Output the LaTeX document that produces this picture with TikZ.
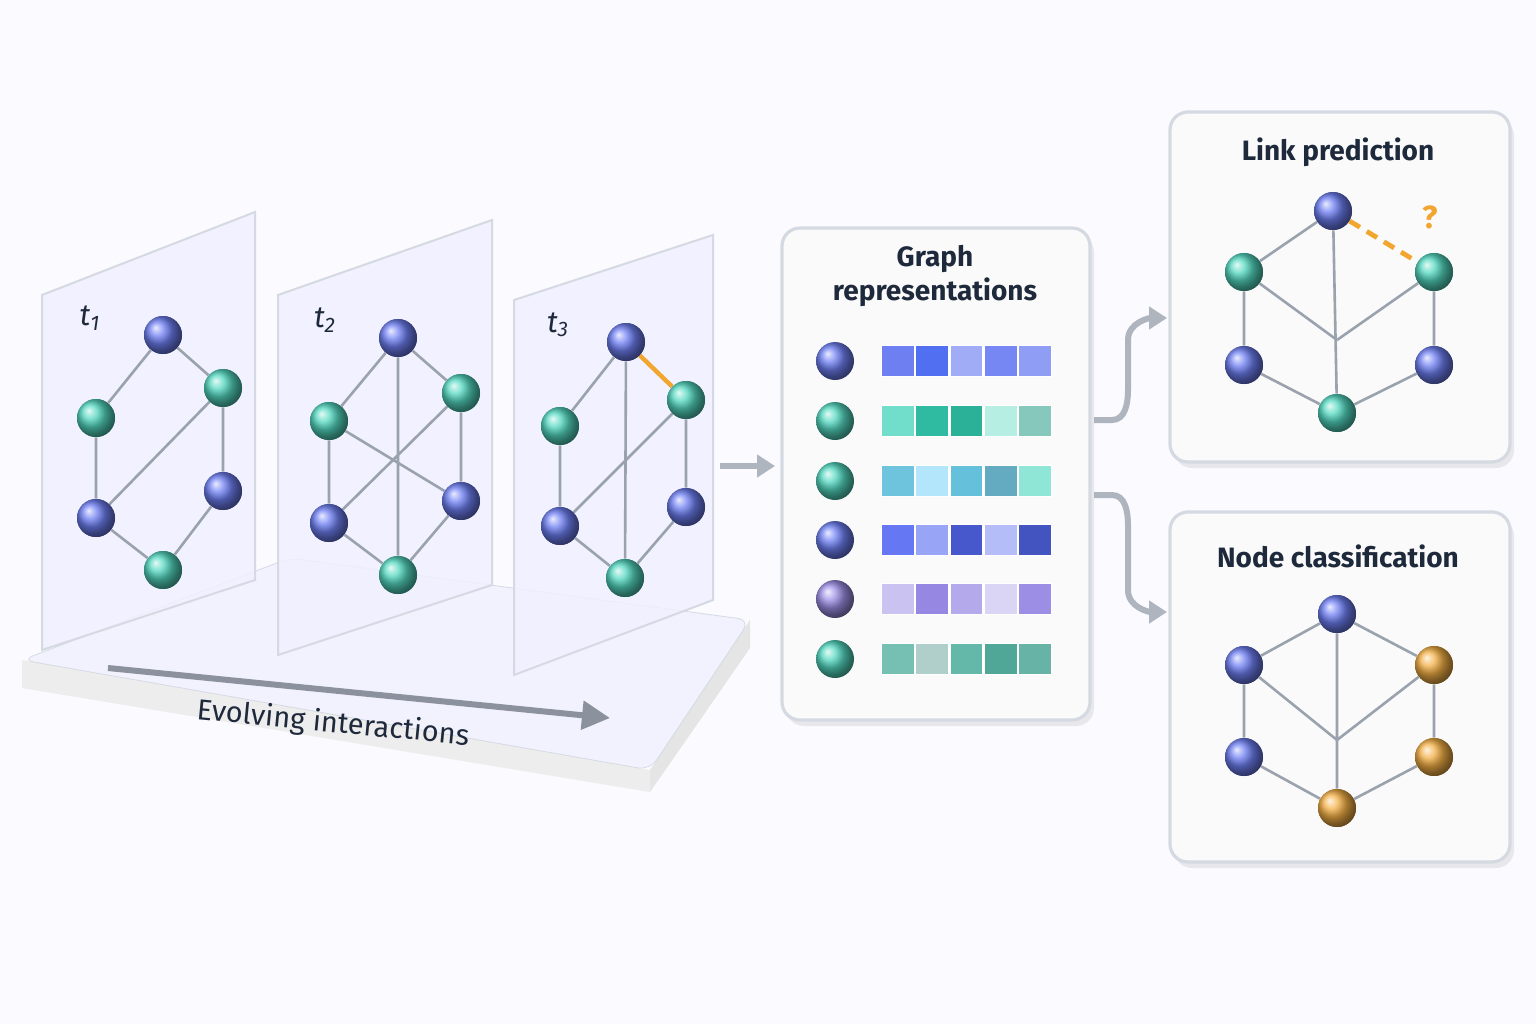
\documentclass[tikz,border=0pt]{standalone}
\usepackage{fontspec}
\setmainfont{Fira Sans}
\usetikzlibrary{arrows.meta,shadows}
\definecolor{bl}{HTML}{5468F0}
\definecolor{tl}{HTML}{34D0B4}
\definecolor{og}{HTML}{F2A630}
\definecolor{pu}{HTML}{8A7AE0}
\definecolor{edge}{HTML}{9AA2AE}
\definecolor{ink}{HTML}{1E2A3C}
\definecolor{frame}{HTML}{D5DAE2}
\tikzset{
 sph/.style={circle,minimum size=19pt,inner sep=0pt,shading=ball},
 B/.style={sph,ball color=bl!85!white},
 T/.style={sph,ball color=tl!85!white},
 O/.style={sph,ball color=og!90!white},
 P/.style={sph,ball color=pu!85!white},
 e/.style={draw=edge,line width=1.3pt},
 pane/.style={fill=white!94!blue,fill opacity=0.85,draw=frame,line width=1pt},
 card/.style={rounded corners=9pt,fill=white!96!gray,draw=frame,line width=1.6pt,drop shadow={opacity=0.15,shadow xshift=2pt,shadow yshift=-3pt}},
 ttl/.style={font=\bfseries\fontsize{14}{17}\selectfont,text=ink,align=center},
 flow/.style={draw=edge!80,line width=3pt,-{Triangle[length=9pt,width=11pt]}},
 cell/.style={minimum width=16.5pt,minimum height=15.5pt,inner sep=0pt,draw=white,line width=0.6pt},
 tlab/.style={font=\itshape\fontsize{15}{17}\selectfont,text=ink}
}
\begin{document}
\begin{tikzpicture}[x=0.5pt,y=-0.5pt]
\fill[white!98!blue] (0,0) rectangle (1536,1024);
\useasboundingbox (0,0) rectangle (1536,1024);
% base
\fill[gray!14] (22,660) -- (650,770) -- (650,792) -- (22,688) -- cycle;
\fill[gray!20] (650,770) -- (750,620) -- (750,648) -- (650,792) -- cycle;
\filldraw[fill=white!95!blue,draw=frame,rounded corners=6pt] (22,660) -- (290,558) -- (750,620) -- (650,770) -- cycle;
% panels
\filldraw[pane] (42,295) -- (255,212) -- (255,580) -- (42,650) -- cycle;
\filldraw[pane] (278,295) -- (492,220) -- (492,585) -- (278,655) -- cycle;
\filldraw[pane] (514,300) -- (713,235) -- (713,600) -- (514,675) -- cycle;
\node[tlab] (t1) at (90,318) {t\textsubscript{1}};
\node[tlab] (t2) at (325,320) {t\textsubscript{2}};
\node[tlab] (t3) at (558,325) {t\textsubscript{3}};
% graph 1
\node[B] (a1) at (163,335) {}; \node[T] (a2) at (96,418) {}; \node[T] (a3) at (223,388) {};
\node[B] (a4) at (96,518) {}; \node[B] (a5) at (223,491) {}; \node[T] (a6) at (163,570) {};
\draw[e] (a1)--(a2) (a1)--(a3) (a2)--(a4) (a4)--(a6) (a6)--(a5) (a3)--(a5) (a4)--(a3);
% graph 2
\node[B] (b1) at (398,338) {}; \node[T] (b2) at (329,421) {}; \node[T] (b3) at (461,393) {};
\node[B] (b4) at (329,523) {}; \node[B] (b5) at (461,501) {}; \node[T] (b6) at (398,575) {};
\draw[e] (b1)--(b2) (b1)--(b3) (b1)--(b6) (b2)--(b4) (b4)--(b6) (b6)--(b5) (b3)--(b5) (b2)--(b5) (b4)--(b3);
% graph 3
\node[B] (c1) at (626,342) {}; \node[T] (c2) at (560,426) {}; \node[T] (c3) at (686,400) {};
\node[B] (c4) at (560,526) {}; \node[B] (c5) at (686,507) {}; \node[T] (c6) at (625,578) {};
\draw[e] (c1)--(c2) (c1)--(c6) (c2)--(c4) (c4)--(c6) (c6)--(c5) (c3)--(c5) (c4)--(c3);
\draw[og,line width=2.2pt] (c1)--(c3);
% evolving arrow
\coordinate (ev0) at (108,668); \coordinate (ev1) at (610,718);
\draw[draw=edge!90!black,line width=3pt,-{Triangle[length=14pt,width=14pt]}] (ev0) -- (ev1);
\node[font=\fontsize{14.5}{17}\selectfont,text=ink,rotate=-5.5] (evl) at (333,724) {Evolving interactions};
% flow arrow
\coordinate (f0) at (720,466); \coordinate (f1) at (775,466);
\draw[flow] (f0) -- (f1);
% middle card
\node[card,minimum width=154pt,minimum height=246pt] (mid) at (936,474) {};
\node[ttl] (mt) at (935,276) {Graph\\representations};
\newcommand{\rowbar}[7]{%
 \node[#2] (r#1) at (835,#3) {};
 \node[cell,fill=#4] (r#1a) at (898,#3) {};
 \node[cell,fill=#5,anchor=west] (r#1b) at (r#1a.east) {};
 \node[cell,fill=#6,anchor=west] (r#1c) at (r#1b.east) {};
 \node[cell,fill=#7!80!white,anchor=west] (r#1d) at (r#1c.east) {};
}
\rowbar{1}{B}{361}{bl!85!white}{bl!95!cyan}{bl!55!white}{bl}
\node[cell,fill=bl!65!white,anchor=west] (r1e) at (r1d.east) {};
\rowbar{2}{T}{421}{tl!70!white}{tl!90!black}{tl!85!black}{tl!45!white}
\node[cell,fill=tl!60!gray!70!white,anchor=west] (r2e) at (r2d.east) {};
\rowbar{3}{T}{481}{cyan!40!tl!70!white}{cyan!30!white}{cyan!40!tl!75!white}{cyan!50!tl!80!black}
\node[cell,fill=tl!55!white,anchor=west] (r3e) at (r3d.east) {};
\rowbar{4}{B}{540}{bl!90!white}{bl!60!white}{bl!85!black}{bl!55!white}
\node[cell,fill=bl!80!black,anchor=west] (r4e) at (r4d.east) {};
\rowbar{5}{P}{599}{pu!45!white}{pu!90!white}{pu!65!white}{pu!40!white}
\node[cell,fill=pu!85!white,anchor=west] (r5e) at (r5d.east) {};
\rowbar{6}{T}{659}{tl!60!gray!80!white}{tl!40!gray!50!white}{tl!60!gray!90!white}{tl!70!black}
\node[cell,fill=tl!55!gray!90!white,anchor=west] (r6e) at (r6d.east) {};
% right cards
\node[card,minimum width=170pt,minimum height=175pt] (lp) at (1340,287) {};
\node[card,minimum width=170pt,minimum height=175pt] (nc) at (1340,687) {};
\node[ttl] (lpt) at (1338,152) {Link prediction};
\node[ttl] (nct) at (1338,556) {Node classification};
% split connectors
\coordinate (s0) at (1094,420); \coordinate (s1) at (1167,318);
\coordinate (u0) at (1094,495); \coordinate (u1) at (1167,612);
\draw[flow] (s0) -- (1112,420) to[out=0,in=-90] (1128,390) -- (1128,340) to[out=90,in=180] (s1);
\draw[flow] (u0) -- (1112,495) to[out=0,in=90] (1128,525) -- (1128,590) to[out=-90,in=180] (u1);
% link prediction graph
\node[B] (l1) at (1333,211) {}; \node[T] (l2) at (1244,272) {}; \node[T] (l3) at (1434,272) {};
\node[B] (l4) at (1244,365) {}; \node[B] (l5) at (1434,365) {}; \node[T] (l6) at (1337,413) {};
\coordinate (lc) at (1337,340);
\draw[e] (l1)--(l2) (l1)--(l6) (l2)--(l4) (l4)--(l6) (l6)--(l5) (l5)--(l3) (l2)--(lc) (lc)--(l3);
\draw[og,line width=2.4pt,dash pattern=on 6pt off 4pt] (l1)--(l3);
\node[font=\bfseries\fontsize{16}{18}\selectfont,text=og] (q) at (1430,217) {?};
% node classification graph
\node[B] (n1) at (1337,614) {}; \node[B] (n2) at (1244,665) {}; \node[O] (n3) at (1434,665) {};
\node[B] (n4) at (1244,757) {}; \node[O] (n5) at (1434,757) {}; \node[O] (n6) at (1337,808) {};
\coordinate (nc0) at (1337,740);
\draw[e] (n1)--(n2) (n1)--(n3) (n1)--(n6) (n2)--(n4) (n3)--(n5) (n4)--(n6) (n6)--(n5) (n2)--(nc0) (nc0)--(n3);
% redraw balls on top
\foreach \n/\s in {a1/B,a2/T,a3/T,a4/B,a5/B,a6/T,b1/B,b2/T,b3/T,b4/B,b5/B,b6/T,c1/B,c2/T,c3/T,c4/B,c5/B,c6/T,l1/B,l2/T,l3/T,l4/B,l5/B,l6/T,n1/B,n2/B,n3/O,n4/B,n5/O,n6/O}
  \node[\s] at (\n) {};
\end{tikzpicture}
\end{document}
